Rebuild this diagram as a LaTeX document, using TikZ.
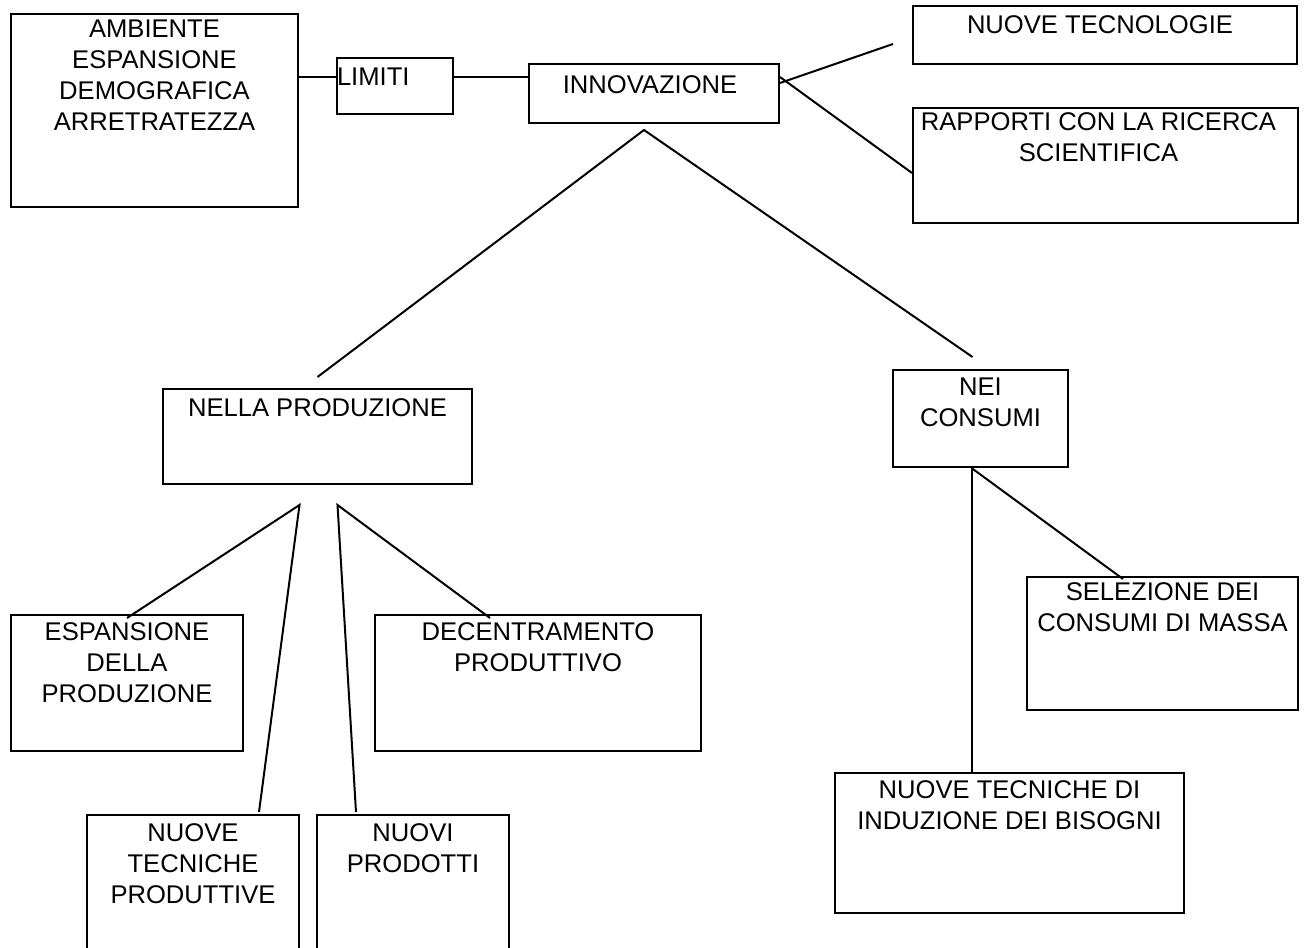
\documentclass[tikz,border=0pt]{standalone}
\usepackage{fontspec}
\setmainfont{Liberation Sans}
\usetikzlibrary{calc}

\begin{document}
\begin{tikzpicture}[x=0.5pt,y=-0.5pt,line width=1pt,
box/.style 2 args={draw,anchor=north west,inner sep=0pt,minimum width=#1,minimum height=#2},
txt/.style={align=center,inner sep=0pt,anchor=north,yshift=-#1,font=\fontsize{12.8}{15.5}\selectfont},
txt/.default=4.5pt,
link/.style={line width=1pt}]
\clip (0,0) rectangle (1307,948);
% upper row
\node[box={143.5pt}{96.5pt},label={[txt=3pt]north:AMBIENTE\\ESPANSIONE\\DEMOGRAFICA\\ARRETRATEZZA}] (amb) at (10,13) {};
\node[box={58pt}{28pt},label={[txt=5pt,anchor=north west]north west:LIMITI}] (lim) at (336,57) {};
\node[box={125pt}{29.5pt},label={[txt=6pt,xshift=-2pt]north:INNOVAZIONE}] (inn) at (528,63) {};
\node[box={192pt}{29pt},label={[txt=5pt,xshift=-2.5pt]north:NUOVE TECNOLOGIE}] (tec) at (912,5) {};
\node[box={192.5pt}{57.5pt},label={[txt=2.5pt,xshift=-3.5pt]north:RAPPORTI CON LA RICERCA\\SCIENTIFICA}] (rap) at (912,107) {};
% second level
\node[box={154.5pt}{47.5pt},label={[txt=5pt]north:NELLA PRODUZIONE}] (nella) at (162,388) {};
\node[box={87.5pt}{48.5pt},label={[txt=4pt]north:NEI\\CONSUMI}] (nei) at (892,369) {};
% leaves
\node[box={116pt}{68pt},label={[txt=4pt]north:ESPANSIONE\\DELLA\\PRODUZIONE}] (esp) at (10,614) {};
\node[box={163pt}{68pt},label={[txt=4pt]north:DECENTRAMENTO\\PRODUTTIVO}] (dec) at (374,614) {};
\node[box={106pt}{75pt},label={[txt=4.5pt]north:NUOVE\\TECNICHE\\PRODUTTIVE}] (ntp) at (86,814) {};
\node[box={96pt}{75pt},label={[txt=4.5pt]north:NUOVI\\PRODOTTI}] (npr) at (316,814) {};
\node[box={135.5pt}{66.5pt},label={[txt=3pt]north:SELEZIONE DEI\\CONSUMI DI MASSA}] (sel) at (1026,576) {};
\node[box={174.5pt}{70pt},label={[txt=4pt]north:NUOVE TECNICHE DI\\INDUZIONE DEI BISOGNI}] (ntd) at (834,772) {};
% links
\draw[link] ($(amb.north east)+(0,64)$) -- ($(lim.north west)+(0,20)$);
\draw[link] ($(lim.north east)+(-2,20)$) -- ($(inn.north west)+(0,14)$);
\draw[link] ($(inn.north east)+(0,20)$) -- ($(tec.west)+(-19,9)$);
\draw[link] ($(inn.north east)+(0,14)$) -- ($(rap.north west)+(0,66)$);
\coordinate (fork) at ($(inn.south)+(-10,6)$);
\draw[link] ($(nella.north)+(0,-11)$) -- (fork) -- ($(nei.north)+(-8,-12)$);
\coordinate (nl) at ($(nella.south)+(-18,20)$);
\coordinate (nr) at ($(nella.south)+(20,20)$);
\draw[link] ($(esp.north)+(0,4)$) -- (nl) -- ($(ntp.north)+(66,-2)$);
\draw[link] ($(npr.north)+(-57,-2)$) -- (nr) -- ($(dec.north)+(-48,4)$);
\coordinate (nc) at ($(nei.south)+(-9,0)$);
\draw[link] (nc) -- (nc |- ntd.north);
\draw[link] (nc) -- ($(sel.north west)+(97,3)$);
\end{tikzpicture}
\end{document}
